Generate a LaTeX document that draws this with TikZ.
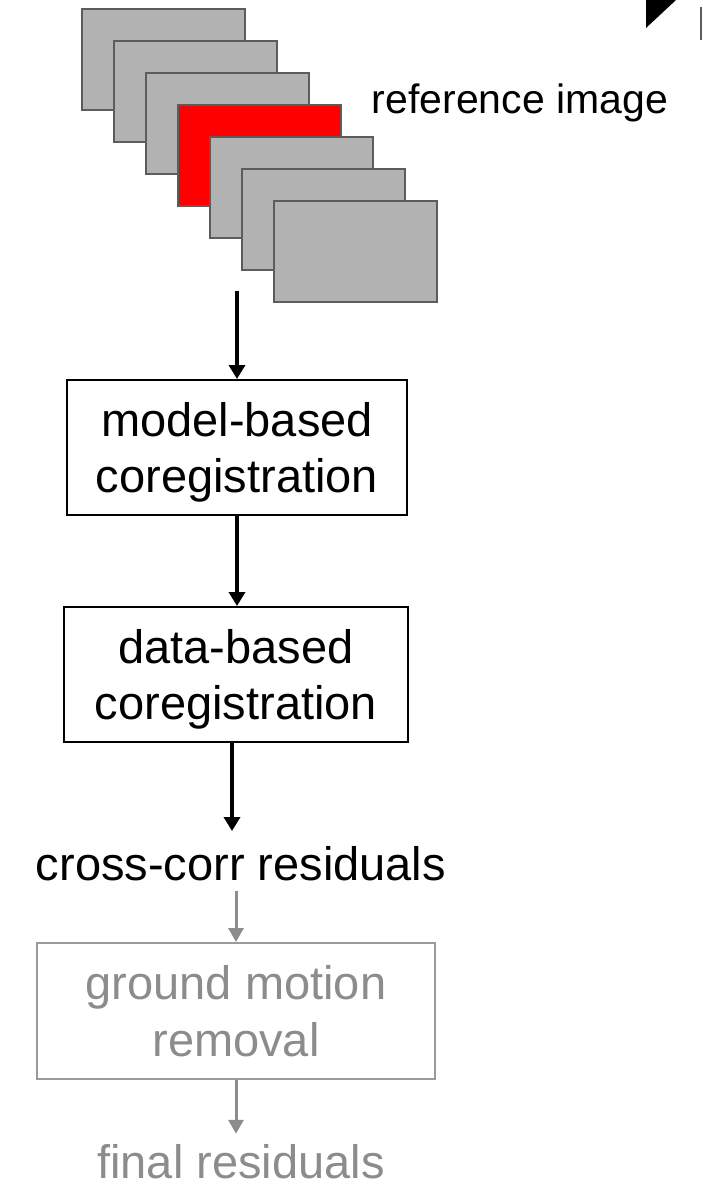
\documentclass[tikz,border=0pt]{standalone}
\usepackage{fontspec}
\setmainfont{Liberation Sans}
\usetikzlibrary{arrows.meta}
\definecolor{sheetgray}{HTML}{B2B2B2}
\definecolor{sheetedge}{HTML}{5C5C5C}
\definecolor{fadegray}{HTML}{8C8C8C}
\definecolor{fadeedge}{HTML}{9A9A9A}
\begin{document}
\begin{tikzpicture}[x=1pt,y=-1pt,
  sheet/.style={draw=sheetedge, line width=2pt, fill=sheetgray,
    minimum width=163pt, minimum height=101pt, inner sep=0pt},
  bigtext/.style={font=\fontsize{47}{56}\selectfont},
  flowbox/.style={bigtext, draw=black, line width=2pt, align=center,
    inner sep=0pt, text depth=0pt},
  fadebox/.style={bigtext, draw=fadeedge, line width=2pt, align=center,
    inner sep=0pt, text depth=0pt, text=fadegray},
  flowarrow/.style={line width=3.5pt, -{Triangle[length=14pt,width=16pt]}},
  fadearrow/.style={draw=fadegray, line width=3pt,
    -{Triangle[length=14pt,width=15pt]}},
  label/.style={bigtext, inner sep=0pt, anchor=base}]
\useasboundingbox (0,0) rectangle (702,1186);

% corner of a neighbouring panel
\fill (646,0) -- (676,0) -- (646,28) -- cycle;
\draw[line width=1.5pt, draw=sheetedge] (701,7) -- (701,40);

% stack of images, the reference image in red
\foreach \k in {0,1,2,4,5,6}{
  \ifnum\k=4
    \node[sheet, fill=red] (sheet3) at ({163.5+32*3},{59.5+32*3}) {};
  \fi
  \node[sheet] (sheet\k) at ({163.5+32*\k},{59.5+32*\k}) {};
}
\node[label, font=\fontsize{41}{49}\selectfont] (refimg) at (520,113) {reference image};

\coordinate (stackfoot) at (237,291);

% processing chain
\node[flowbox, minimum width=340pt, minimum height=135pt] (model) at (237,447.5)
  {model-based\\coregistration};
\node[flowbox, minimum width=344pt, minimum height=135pt] (data) at (236,674.5)
  {data-based\\coregistration};
\node[label] (cc) at (241,880) {cross-corr residuals};
\coordinate (ccend) at (232,831);

\node[fadebox, font=\fontsize{47}{57}\selectfont, minimum width=398pt,
  minimum height=136pt] (ground) at (236,1011) {ground motion\\removal};
\node[label, text=fadegray] (final) at (241,1178) {final residuals};

\draw[flowarrow] (stackfoot) -- (model.north);
\draw[flowarrow] (model.south) -- (model.south |- data.north);
\draw[flowarrow] (data.south -| ccend) -- (ccend);
\draw[fadearrow] ([yshift=-10pt]cc.south -| ground.north) -- (ground.north);
\draw[fadearrow] (ground.south) -- ([yshift=10pt]ground.south |- final.north);
\end{tikzpicture}
\end{document}
